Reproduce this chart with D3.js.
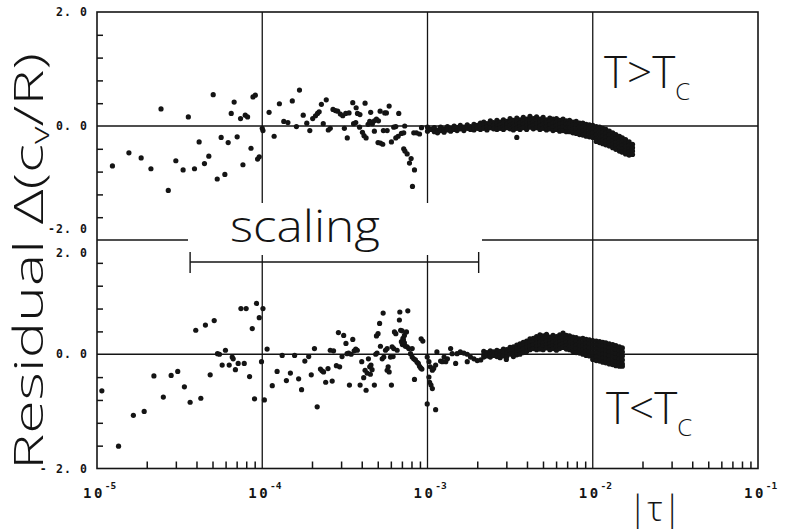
<!DOCTYPE html>
<html><head><meta charset="utf-8">
<script src="https://cdn.jsdelivr.net/npm/d3@7"></script>
<style>html,body{margin:0;padding:0;background:#fff}svg{display:block}</style>
</head><body><svg id="c" width="786" height="530"></svg>
<script>
// ---------- data ----------
const xDecades = [1e-5, 1e-4, 1e-3, 1e-2, 1e-1];
const xExponents = ["-5", "-4", "-3", "-2", "-1"];
const gridDecades = [1e-4, 1e-3, 1e-2];
const yMinorTicks = [-1.6, -1.2, -0.8, -0.4, 0.4, 0.8, 1.2, 1.6];
const yLabelValues = [2, 0, -2];
const topYLabels = ["2. 0", "0. 0", "-2. 0"];
const bottomYLabels = ["2. 0", "0. 0", "- 2. 0"];
const scalingRange = [3.66e-5, 2.04e-3];

// T > Tc : isolated points [|tau|, residual]
const topPoints = [
[1.24e-5,-0.70],[1.56e-5,-0.47],[1.85e-5,-0.56],[2.12e-5,-0.75],[2.44e-5,0.30],[2.70e-5,-1.13],
[3.00e-5,-0.61],[3.32e-5,-0.77],[3.57e-5,0.16],[3.89e-5,-0.75],[4.15e-5,-0.28],[4.47e-5,-0.66],
[4.75e-5,-0.53],[5.05e-5,0.55],[5.34e-5,-0.93],[5.64e-5,-0.20],[5.94e-5,-0.85],[6.22e-5,-0.29],
[6.49e-5,0.22],[6.76e-5,0.42],[7.05e-5,-0.19],[7.39e-5,0.13],[7.64e-5,-0.68],[7.89e-5,0.19],
[8.15e-5,0.16],[8.55e-5,-0.39],[8.79e-5,0.51],[9.08e-5,0.54],[9.37e-5,-0.58],[9.59e-5,-0.54],
[1.00e-4,-0.04],[1.01e-4,-0.08],[1.10e-4,0.24],[1.18e-4,-0.18],[1.27e-4,0.39],[1.35e-4,0.08],
[1.43e-4,0.06],[1.52e-4,0.44],[1.61e-4,-0.01],[1.68e-4,0.63],[1.77e-4,0.19],[1.86e-4,0.05],
[1.94e-4,-0.08],[2.02e-4,0.13],[2.10e-4,0.18],[2.16e-4,0.22],[2.21e-4,0.25],[2.28e-4,0.38],
[2.34e-4,0.04],[2.44e-4,0.46],[2.51e-4,-0.07],[2.58e-4,-0.04],[2.68e-4,0.29],[2.77e-4,0.27],
[2.86e-4,0.26],[2.97e-4,0.21],[3.07e-4,0.18],[3.14e-4,-0.04],[3.27e-4,-0.21],[3.20e-4,0.22],
[3.35e-4,0.23],[3.53e-4,0.41],[3.57e-4,0.04],[3.68e-4,0.06],[3.70e-4,0.32],[3.77e-4,0.22],
[3.90e-4,0.20],[3.88e-4,-0.02],[4.04e-4,-0.11],[4.13e-4,-0.17],[4.25e-4,-0.21],[4.19e-4,0.40],
[4.37e-4,0.03],[4.47e-4,0.08],[4.53e-4,0.24],[4.64e-4,0.04],[4.77e-4,0.09],[4.91e-4,0.12],
[5.05e-4,0.09],[4.77e-4,-0.09],[5.02e-4,-0.29],[5.19e-4,-0.30],[5.36e-4,-0.32],[5.17e-4,0.26],
[5.51e-4,0.23],[5.64e-4,0.23],[5.41e-4,-0.08],[5.70e-4,-0.08],[5.86e-4,0.35],[6.05e-4,-0.28],
[6.25e-4,-0.02],[6.43e-4,-0.01],[6.43e-4,-0.21],[6.64e-4,-0.18],[6.70e-4,0.22],[6.95e-4,-0.13],
[7.18e-4,-0.12],[7.28e-4,0.00],[7.18e-4,-0.40],[7.30e-4,-0.44],[7.53e-4,-0.49],[7.78e-4,-0.65],
[7.96e-4,-0.57],[8.11e-4,-1.06],[8.34e-4,-0.77],[8.26e-4,-0.12],[8.57e-4,-0.12],[8.95e-4,-0.14],
[9.20e-4,-0.03],[3.47e-3,-0.20]
];
// T > Tc : dense band [|tau|, [residuals]]
const topBand = [
[1.00e-3,[-0.02,-0.09]],[1.05e-3,[-0.06]],[1.10e-3,[-0.03,-0.10]],[1.15e-3,[-0.07,-0.12]],
[1.20e-3,[-0.02,-0.08]],[1.26e-3,[-0.05,-0.11]],[1.32e-3,[-0.01,-0.07]],[1.38e-3,[-0.04,-0.09]],
[1.45e-3,[0.00,-0.06]],[1.51e-3,[-0.03,-0.08]],[1.58e-3,[0.01,-0.05]],[1.66e-3,[-0.02,-0.08]],
[1.74e-3,[0.02,-0.04]],[1.82e-3,[-0.01,-0.06]],[1.91e-3,[0.03,-0.02,-0.07]],[2.00e-3,[0.01,-0.04]],
[2.09e-3,[0.05,0.00,-0.06]],[2.19e-3,[0.07,0.02,-0.04]],[2.29e-3,[0.04,-0.02,-0.07]],
[2.40e-3,[0.09,0.03,-0.03]],[2.51e-3,[0.06,0.01,-0.05]],[2.63e-3,[0.10,0.04,-0.02,-0.06]],
[2.75e-3,[0.07,0.02,-0.04]],[2.88e-3,[0.11,0.05,-0.01,-0.06]],[3.02e-3,[0.08,0.03,-0.03]],
[3.16e-3,[0.13,0.07,0.01,-0.05]],[3.31e-3,[0.10,0.04,-0.02,-0.07]],[3.47e-3,[0.14,0.08,0.02,-0.04]],
[3.63e-3,[0.11,0.05,-0.01,-0.06]],[3.80e-3,[0.15,0.09,0.03,-0.03]],[3.98e-3,[0.12,0.06,0.00,-0.06]],
[4.17e-3,[0.17,0.10,0.04,-0.02]],[4.37e-3,[0.13,0.07,0.01,-0.05]],[4.57e-3,[0.16,0.10,0.04,-0.03]],
[4.79e-3,[0.12,0.06,0.00,-0.06]],[5.01e-3,[0.15,0.09,0.03,-0.04]],[5.25e-3,[0.11,0.05,-0.01,-0.07]],
[5.50e-3,[0.14,0.08,0.02,-0.05]],[5.75e-3,[0.12,0.05,-0.02,-0.08]],[6.03e-3,[0.13,0.07,0.01,-0.06]],
[6.31e-3,[0.10,0.04,-0.03,-0.09]],[6.61e-3,[0.12,0.05,-0.01,-0.08]],[6.92e-3,[0.09,0.03,-0.04,-0.10]],
[7.24e-3,[0.10,0.03,-0.03,-0.10]],[7.59e-3,[0.07,0.01,-0.06,-0.12]],[7.94e-3,[0.08,0.01,-0.06,-0.13]],
[8.32e-3,[0.05,-0.01,-0.08,-0.15]],[8.71e-3,[0.05,-0.02,-0.09,-0.16]],[9.12e-3,[0.03,-0.04,-0.11,-0.18]],
[9.55e-3,[0.02,-0.05,-0.12,-0.19]],[1.00e-2,[0.01,-0.06,-0.13,-0.20]],
[1.05e-2,[-0.01,-0.08,-0.15,-0.22,-0.27]],[1.10e-2,[-0.02,-0.09,-0.16,-0.23,-0.29]],
[1.15e-2,[-0.04,-0.11,-0.18,-0.25,-0.31]],[1.20e-2,[-0.06,-0.13,-0.20,-0.27,-0.33]],
[1.26e-2,[-0.09,-0.16,-0.23,-0.30,-0.35]],[1.32e-2,[-0.12,-0.19,-0.26,-0.32,-0.38]],
[1.38e-2,[-0.15,-0.22,-0.29,-0.35,-0.41]],[1.45e-2,[-0.18,-0.25,-0.31,-0.37,-0.44]],
[1.51e-2,[-0.21,-0.28,-0.34,-0.40,-0.46]],[1.58e-2,[-0.24,-0.31,-0.37,-0.43,-0.49]],
[1.66e-2,[-0.28,-0.34,-0.40,-0.46,-0.51]],[1.74e-2,[-0.32,-0.38,-0.44,-0.50]]
];

// T < Tc : isolated points
const bottomPoints = [
[1.07e-5,-0.64],[1.35e-5,-1.61],[1.66e-5,-1.07],[1.93e-5,-1.00],[2.21e-5,-0.38],[2.52e-5,-0.75],
[2.81e-5,-0.37],[3.08e-5,-0.30],[3.38e-5,-0.57],[3.66e-5,-0.84],[3.96e-5,0.42],[4.25e-5,-0.77],
[4.53e-5,0.51],[4.84e-5,-0.36],[5.12e-5,0.59],[5.36e-5,0.01],[5.51e-5,0.00],[5.72e-5,-0.19],
[5.99e-5,0.07],[6.31e-5,-0.19],[6.58e-5,-0.05],[6.67e-5,-0.08],[6.88e-5,-0.27],[7.15e-5,-0.16],
[7.43e-5,0.80],[7.99e-5,0.80],[7.78e-5,-0.16],[8.38e-5,-0.39],[8.70e-5,0.45],[8.98e-5,-0.78],
[9.23e-5,0.89],[9.59e-5,0.64],[9.90e-5,-0.13],[1.01e-4,0.80],[1.03e-4,-0.80],[1.07e-4,0.09],
[1.15e-4,-0.55],[1.23e-4,-0.30],[1.32e-4,-0.02],[1.40e-4,-0.46],[1.48e-4,-0.33],[1.57e-4,-0.02],
[1.66e-4,-0.43],[1.73e-4,-0.62],[1.81e-4,-0.12],[1.91e-4,-0.04],[1.98e-4,-0.36],[2.07e-4,0.10],
[2.15e-4,-0.92],[2.25e-4,-0.26],[2.30e-4,-0.29],[2.35e-4,-0.31],[2.42e-4,-0.49],[2.50e-4,-0.25],
[2.58e-4,0.07],[2.70e-4,0.06],[2.65e-4,-0.47],[2.81e-4,-0.20],[2.94e-4,-0.22],[2.89e-4,0.38],
[3.04e-4,-0.04],[3.11e-4,0.33],[3.21e-4,0.19],[3.26e-4,0.01],[3.33e-4,0.02],[3.45e-4,0.00],
[3.37e-4,-0.54],[3.53e-4,0.26],[3.60e-4,0.06],[3.68e-4,0.09],[3.76e-4,0.07],[3.91e-4,-0.54],
[4.00e-4,-0.13],[4.11e-4,-0.41],[4.19e-4,-0.28],[4.25e-4,-0.63],[4.31e-4,-0.33],[4.39e-4,-0.08],
[4.47e-4,-0.22],[4.55e-4,-0.19],[4.62e-4,-0.27],[4.51e-4,-0.35],[4.77e-4,-0.54],[4.86e-4,0.00],
[4.95e-4,0.02],[4.91e-4,0.32],[5.02e-4,0.36],[5.13e-4,0.54],[5.19e-4,0.14],[5.39e-4,0.72],
[5.32e-4,-0.08],[5.44e-4,-0.05],[5.57e-4,0.07],[5.70e-4,0.10],[5.70e-4,-0.28],[5.86e-4,-0.31],
[5.78e-4,-0.22],[5.97e-4,-0.05],[6.19e-4,-0.04],[6.05e-4,-0.54],[6.11e-4,0.13],[6.25e-4,0.10],
[6.31e-4,0.39],[6.43e-4,0.36],[6.55e-4,0.07],[6.76e-4,0.60],[6.80e-4,0.74],[6.88e-4,0.42],
[6.95e-4,0.22],[7.05e-4,0.17],[7.15e-4,0.25],[7.25e-4,0.20],[7.35e-4,0.14],[7.10e-4,0.28],
[7.02e-4,0.41],[7.25e-4,0.33],[7.46e-4,0.39],[7.60e-4,0.76],[7.53e-4,0.13],[7.71e-4,0.10],
[7.89e-4,0.01],[8.08e-4,-0.05],[8.26e-4,-0.08],[8.45e-4,-0.10],[8.34e-4,-0.44],[8.65e-4,-0.14],
[8.80e-4,-0.16],[8.95e-4,-0.21],[9.10e-4,-0.24],[9.25e-4,-0.26],[9.15e-4,0.27],[9.37e-4,0.23],
[8.08e-4,0.10],[9.96e-4,-0.87],[9.96e-4,-0.05],[1.02e-3,-0.13],[1.04e-3,-0.22],[1.07e-3,-0.28],
[1.09e-3,-0.25],[1.12e-3,-0.19],[1.02e-3,-0.40],[1.03e-3,-0.49],[1.05e-3,-0.54],[1.07e-3,-0.60],
[1.12e-3,-0.97],[1.14e-3,0.04],[1.20e-3,-0.12],[1.23e-3,-0.13],[1.26e-3,-0.05],[1.29e-3,-0.13],
[1.32e-3,-0.08],[1.38e-3,0.10],[1.41e-3,0.01],[1.48e-3,-0.16],[1.51e-3,0.01],[1.58e-3,0.04],
[1.66e-3,0.02],[1.74e-3,0.00],[1.74e-3,-0.13],[1.82e-3,-0.05],[1.91e-3,-0.08],[2.00e-3,-0.11],
[2.10e-3,-0.10],[3.00e-3,-0.09]
];
// T < Tc : dense band
const bottomBand = [
[2.19e-3,[0.05,-0.01,-0.05]],[2.29e-3,[0.03,-0.03]],[2.40e-3,[0.06,0.00,-0.05]],[2.51e-3,[0.04,-0.02]],
[2.63e-3,[0.07,0.01,-0.04]],[2.75e-3,[0.05,-0.01,-0.06]],[2.88e-3,[0.09,0.03,-0.03]],
[3.02e-3,[0.08,0.02,-0.04]],[3.16e-3,[0.12,0.06,0.00]],[3.31e-3,[0.13,0.07,0.01,-0.04]],
[3.47e-3,[0.16,0.10,0.04,-0.01]],[3.63e-3,[0.18,0.12,0.06,0.00]],[3.80e-3,[0.21,0.15,0.09,0.03]],
[3.98e-3,[0.23,0.17,0.11,0.05]],[4.17e-3,[0.27,0.21,0.14,0.08]],[4.37e-3,[0.28,0.22,0.16,0.10]],
[4.57e-3,[0.31,0.25,0.19,0.13,0.08]],[4.79e-3,[0.34,0.28,0.21,0.15,0.09]],
[5.01e-3,[0.32,0.26,0.20,0.14,0.08]],[5.25e-3,[0.35,0.29,0.23,0.17,0.11]],
[5.50e-3,[0.30,0.24,0.18,0.12,0.08]],[5.75e-3,[0.33,0.27,0.21,0.15,0.10]],
[6.03e-3,[0.31,0.25,0.19,0.13,0.07]],[6.31e-3,[0.34,0.28,0.22,0.16,0.10]],
[6.61e-3,[0.37,0.30,0.24,0.18,0.12]],[6.92e-3,[0.33,0.27,0.21,0.15,0.09]],
[7.24e-3,[0.32,0.26,0.20,0.14,0.08]],[7.59e-3,[0.30,0.24,0.18,0.12,0.05]],
[7.94e-3,[0.29,0.23,0.16,0.10,0.03]],[8.32e-3,[0.27,0.21,0.15,0.08,0.02]],
[8.71e-3,[0.28,0.21,0.14,0.07,0.00]],[9.12e-3,[0.26,0.19,0.12,0.05,-0.02]],
[9.55e-3,[0.25,0.18,0.11,0.04,-0.03]],[1.00e-2,[0.24,0.17,0.10,0.03,-0.04,-0.09]],
[1.05e-2,[0.23,0.16,0.09,0.02,-0.05,-0.11]],[1.10e-2,[0.22,0.15,0.08,0.01,-0.06,-0.12]],
[1.15e-2,[0.21,0.14,0.07,0.00,-0.07,-0.14]],[1.20e-2,[0.20,0.13,0.06,-0.01,-0.08,-0.15]],
[1.26e-2,[0.18,0.11,0.04,-0.03,-0.10,-0.17]],[1.32e-2,[0.17,0.10,0.03,-0.04,-0.11,-0.18]],
[1.38e-2,[0.15,0.08,0.01,-0.06,-0.13,-0.20]],[1.45e-2,[0.13,0.06,-0.01,-0.08,-0.15,-0.21]],
[1.51e-2,[0.11,0.04,-0.03,-0.10,-0.17,-0.21]]
];

// ---------- drawing ----------
const svg = d3.select("#c");
const L = 97, R = 758, T = 12, B = 468.5;
const x = d3.scaleLog().domain([1e-5, 1e-1]).range([L, R]);
const yTop = d3.scaleLinear().domain([-2, 2]).range([240, T]);
const yBot = d3.scaleLinear().domain([-2, 2]).range([B, 240]);
const ink = "#141414";
const flat = band => band.flatMap(([t, vs]) => vs.map(v => [t, v]));

// grid
svg.append("g").selectAll("line").data(gridDecades).join("line")
  .attr("x1", d => x(d)).attr("x2", d => x(d)).attr("y1", T).attr("y2", B)
  .attr("stroke", ink).attr("stroke-width", 1.3);
const hLines = [yTop(0), yTop(-2), yBot(0)];
svg.append("g").selectAll("line").data(hLines).join("line")
  .attr("x1", L).attr("x2", R).attr("y1", d => d).attr("y2", d => d)
  .attr("stroke", ink).attr("stroke-width", 1.3);

// white mask behind "scaling"
svg.append("rect").attr("x", 188).attr("y", 203).attr("width", 294).attr("height", 52).attr("fill", "#fff");

// frame
svg.append("rect").attr("x", L).attr("y", T).attr("width", R - L).attr("height", B - T)
  .attr("fill", "none").attr("stroke", ink).attr("stroke-width", 1.6);

// axes ticks
const minor = x.ticks().filter(t => !xDecades.some(d => Math.abs(t / d - 1) < 1e-6));
const gx = svg.append("g").attr("transform", `translate(0,${B})`)
  .call(d3.axisBottom(x).tickValues(minor).tickSize(-7).tickFormat(""));
gx.select(".domain").remove();
gx.selectAll("line").attr("stroke", ink).attr("stroke-width", 1.5);
[yTop, yBot].forEach(sc => {
  const g = svg.append("g").attr("transform", `translate(${L},0)`)
    .call(d3.axisLeft(sc).tickValues(yMinorTicks).tickSize(-6).tickFormat(""));
  g.select(".domain").remove();
  g.selectAll("line").attr("stroke", ink).attr("stroke-width", 1.5);
});

// y labels
const numFont = "'DejaVu Sans Mono', monospace";
const yLab = (sc, labels, offs) => svg.append("g").selectAll("text").data(yLabelValues).join("text")
  .attr("x", 88).attr("y", (d, i) => sc(d) + 4 + offs[i])
  .attr("text-anchor", "end").attr("font-family", numFont).attr("font-weight", "bold")
  .attr("font-size", 11.5).attr("letter-spacing", 1.1).attr("fill", ink)
  .text((d, i) => labels[i]);
yLab(yTop, topYLabels, [0, 0, -11]);
yLab(yBot, bottomYLabels, [13, 0, 0]);

// x labels
const xl = svg.append("g").selectAll("text").data(xDecades).join("text")
  .attr("x", d => x(d) - 14).attr("y", 498)
  .attr("font-family", numFont).attr("font-weight", "bold").attr("fill", ink);
xl.append("tspan").attr("font-size", 14).attr("letter-spacing", 2.5).text("10");
xl.append("tspan").attr("font-size", 9.5).attr("dy", -9).text((d, i) => xExponents[i]);

// data points
const r = 2.6;
const drawPts = (pts, sc) => svg.append("g").selectAll("circle").data(pts).join("circle")
  .attr("cx", d => x(d[0])).attr("cy", d => sc(d[1])).attr("r", r).attr("fill", ink);
drawPts(topPoints, yTop);
drawPts(flat(topBand), yTop);
drawPts(bottomPoints, yBot);
drawPts(flat(bottomBand), yBot);

// scaling bracket
const by = 262;
const br = svg.append("g").attr("stroke", ink).attr("stroke-width", 1.4);
br.append("line").attr("x1", x(scalingRange[0])).attr("x2", x(scalingRange[1])).attr("y1", by).attr("y2", by);
scalingRange.forEach(t => br.append("line").attr("x1", x(t)).attr("x2", x(t)).attr("y1", by - 10).attr("y2", by + 11));

const lblFont = "'Open Sans', 'Lato', sans-serif";
svg.append("text").attr("x", 230).attr("y", 242).attr("font-family", lblFont).attr("font-weight", 300)
  .attr("font-size", 44).attr("textLength", 150).attr("lengthAdjust", "spacingAndGlyphs")
  .attr("fill", ink).text("scaling");

// T labels
const tLab = (tx, ty, sym) => {
  const t = svg.append("text").attr("x", tx).attr("y", ty).attr("font-family", lblFont)
    .attr("font-weight", 300).attr("font-size", 44).attr("fill", ink);
  t.append("tspan").text("T" + sym + "T");
  t.append("tspan").attr("font-size", 24).attr("dy", 12).attr("dx", 0).text("C");
};
tLab(604, 88, ">");
tLab(606, 424, "<");

// y title
const yt = svg.append("text").attr("transform", "translate(43,261.5) rotate(-90)")
  .attr("text-anchor", "middle").attr("font-family", lblFont).attr("font-weight", 300)
  .attr("font-size", 40).attr("fill", ink).attr("textLength", 417).attr("lengthAdjust", "spacingAndGlyphs");
yt.append("tspan").text("Residual Δ(c");
yt.append("tspan").attr("font-size", 25).attr("dy", 6).text("v");
yt.append("tspan").attr("dy", -6).text("/R)");

// x title
svg.append("text").attr("x", 655).attr("y", 521).attr("text-anchor", "middle")
  .attr("font-family", lblFont).attr("font-weight", 300).attr("font-size", 35).attr("fill", ink)
  .text("|τ|");
</script>
</body></html>
